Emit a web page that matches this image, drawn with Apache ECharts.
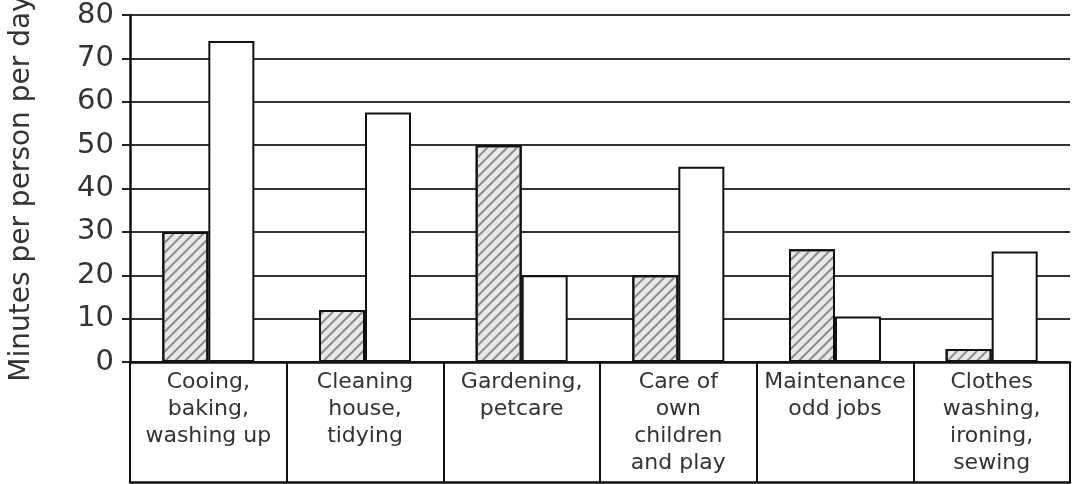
<!DOCTYPE html>
<html>
<head>
<meta charset="utf-8">
<script src="https://cdn.jsdelivr.net/npm/echarts@6/dist/echarts.min.js"></script>
<style>
html, body { margin: 0; padding: 0; background: #fff; }
#charts { width: 1072px; height: 484px; }
</style>
</head>
<body>
<div id="charts"></div>
<script>
// categories (table under the bars)
var categories = [
    'Cooing,\nbaking,\nwashing up',
    'Cleaning\nhouse,\ntidying',
    'Gardening,\npetcare',
    'Care of\nown\nchildren\nand play',
    'Maintenance\nodd jobs',
    'Clothes\nwashing,\nironing,\nsewing'
];
// minutes per person per day
var hatchedValues = [30, 12, 50, 20, 26, 3];
var plainValues = [74, 57.5, 20, 45, 10.5, 25.5];
var yTicks = [0, 10, 20, 30, 40, 50, 60, 70, 80];

var charts;

function getECharts() {
    if (charts != undefined) {
        return charts;
    }
    charts = echarts.init(document.getElementById('charts'));
    return charts;
}

function buildOption() {
    var font = 'DejaVu Sans';
    return {
        animation: false,
        backgroundColor: '#fff',
        grid: { left: 130, right: 2, top: 15, bottom: 122, containLabel: false, outerBoundsMode: 'none' },
        xAxis: [{
            type: 'category',
            data: categories,
            axisLine: { lineStyle: { color: '#111', width: 2.5 } },
            axisTick: { show: true, length: 121, lineStyle: { color: '#111', width: 2 } },
            axisLabel: {
                interval: 0,
                margin: 7,
                verticalAlign: 'top',
                fontFamily: font,
                fontSize: 22,
                lineHeight: 27,
                color: '#333'
            }
        }, {
            type: 'category',
            data: categories,
            position: 'bottom',
            offset: 120,
            axisLine: { lineStyle: { color: '#111', width: 2.5 } },
            axisTick: { show: false },
            axisLabel: { show: false }
        }],
        yAxis: {
            type: 'value',
            min: yTicks[0],
            max: yTicks[yTicks.length - 1],
            interval: 10,
            name: 'Minutes per person per day',
            nameLocation: 'middle',
            nameGap: 94,
            nameTextStyle: { fontFamily: font, fontSize: 28, color: '#333' },
            axisLine: { show: true, lineStyle: { color: '#111', width: 2.5 } },
            axisTick: { show: true, length: 8, lineStyle: { color: '#222', width: 2 } },
            axisLabel: { margin: 16, fontFamily: font, fontSize: 29, color: '#333' },
            splitLine: { lineStyle: { color: '#333', width: 2 } }
        },
        series: [{
            type: 'bar',
            data: hatchedValues,
            barWidth: 46,
            barGap: '0%',
            itemStyle: {
                color: '#e8e8e8',
                borderColor: '#111',
                borderWidth: 2,
                decal: {
                    symbol: 'rect',
                    symbolSize: 1,
                    color: '#8a8a8a',
                    dashArrayX: [1, 0],
                    dashArrayY: [1.2, 5],
                    rotation: -Math.PI / 4
                }
            }
        }, {
            type: 'bar',
            data: plainValues,
            barWidth: 46,
            barGap: '0%',
            itemStyle: { color: '#fff', borderColor: '#111', borderWidth: 2 }
        }]
    };
}

function init() {
    getECharts().setOption(buildOption());
}

init();
</script>
</body>
</html>
